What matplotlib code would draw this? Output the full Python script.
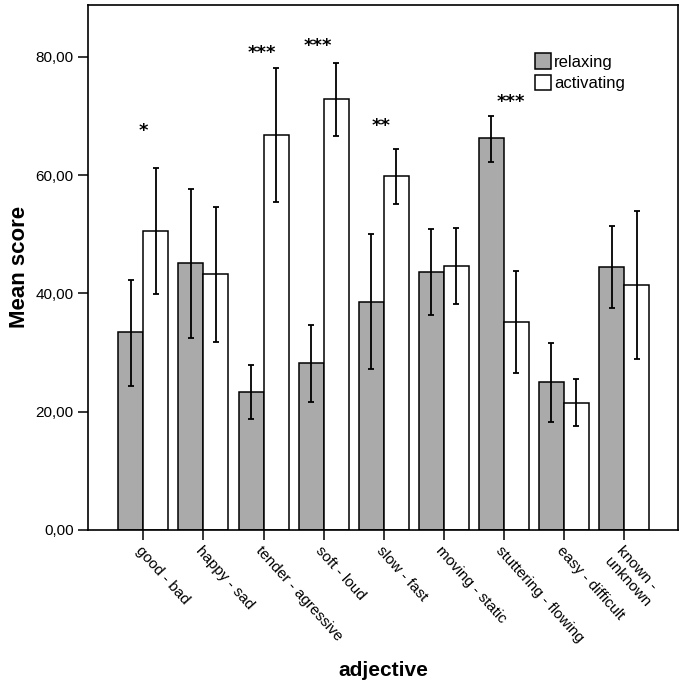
import numpy as np
import matplotlib
matplotlib.use("Agg")
import matplotlib.pyplot as plt
from matplotlib.ticker import FuncFormatter

plt.rcParams['font.family'] = ['Liberation Sans', 'DejaVu Sans']

# data
adjectives = ["good - bad", "happy - sad", "tender - agressive", "soft - loud",
              "slow - fast", "moving - static", "stuttering - flowing",
              "easy - difficult", "known -\nunknown"]
relaxing = [33.4, 45.1, 23.3, 28.2, 38.6, 43.6, 66.2, 25.0, 44.5]
relaxing_lo = [24.3, 32.4, 18.8, 21.6, 27.2, 36.3, 62.2, 18.3, 37.5]
relaxing_hi = [42.3, 57.6, 27.9, 34.7, 50.0, 50.9, 70.0, 31.7, 51.4]
activating = [50.6, 43.2, 66.8, 72.8, 59.8, 44.6, 35.2, 21.5, 41.4]
activating_lo = [39.9, 31.8, 55.4, 66.7, 55.2, 38.2, 26.6, 17.6, 28.9]
activating_hi = [61.2, 54.6, 78.1, 79.0, 64.4, 51.1, 43.8, 25.5, 54.0]

# significance markers: (category index, offset, height, text)
stars = [(0, 0.0, 67.5, "*"), (2, -0.03, 80.7, "***"), (3, -0.1, 81.8, "***"),
         (4, -0.05, 68.3, "**"), (6, 0.12, 72.4, "***")]

x = np.arange(len(adjectives))
w = 0.416
rel = np.array(relaxing)
act = np.array(activating)

fig = plt.figure(figsize=(6.85, 6.85), dpi=100)
ax = fig.add_axes([0.129, 0.2263, 0.861, 0.7667])

ekw = dict(ecolor='black', elinewidth=1.3, capsize=2.5, capthick=1.3)
ax.bar(x - w / 2, rel, w, color='#aaaaaa', edgecolor='black', linewidth=1.1,
       yerr=[rel - np.array(relaxing_lo), np.array(relaxing_hi) - rel],
       error_kw=ekw, label='relaxing')
ax.bar(x + w / 2, act, w, color='white', edgecolor='black', linewidth=1.1,
       yerr=[act - np.array(activating_lo), np.array(activating_hi) - act],
       error_kw=ekw, label='activating')

for i, off, h, s in stars:
    ax.text(i + off, h, s, ha='center', va='center', fontsize=13, fontweight='bold',
            family='DejaVu Sans')

ax.set_xlim(-0.915, len(adjectives) - 1 + 0.9)
ax.set_ylim(0, 88.8)
ax.set_yticks([0, 20, 40, 60, 80])
ax.yaxis.set_major_formatter(FuncFormatter(lambda v, p: f"{v:.2f}".replace('.', ',')))
ax.set_xticks(x)
ax.set_xticklabels(adjectives, rotation=-48, ha='left', va='top',
                   rotation_mode='anchor', fontsize=11)
ax.tick_params(axis='y', labelsize=11, length=7, width=1.1)
ax.tick_params(axis='x', length=7, width=1.1, pad=3)
for sp in ax.spines.values():
    sp.set_linewidth(1.2)

ax.set_ylabel("Mean score", fontsize=16, fontweight='bold', labelpad=4)
ax.set_xlabel("adjective", fontsize=15, fontweight='bold', labelpad=11)

ax.legend(loc='upper left', bbox_to_anchor=(0.757, 0.908), frameon=False, fontsize=12,
          handlelength=0.95, handleheight=1.05, handletextpad=0.2, labelspacing=0.3,
          borderaxespad=0, borderpad=0)

fig.savefig("out.png", dpi=100)
